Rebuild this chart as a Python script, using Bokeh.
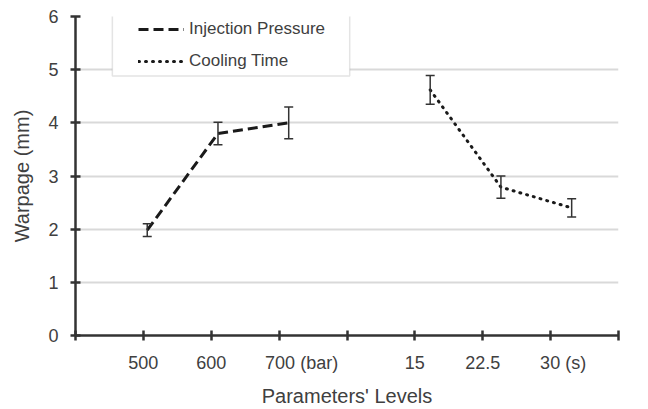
from bokeh.plotting import figure
from bokeh.models import (Range1d, FixedTicker, Whisker, TeeHead, ColumnDataSource,
                          Legend, LegendItem, BoxAnnotation)
from bokeh.embed import file_html
from bokeh.resources import INLINE

# ---- data ----
inj_levels = ["500", "600", "700 (bar)"]
inj_pos = [1, 2, 3]
inj_warp = [1.98, 3.80, 4.00]
inj_err = [0.12, 0.21, 0.30]

cool_levels = ["15", "22.5", "30 (s)"]
cool_pos = [5, 6, 7]
cool_warp = [4.62, 2.79, 2.40]
cool_err = [0.27, 0.21, 0.17]

y_ticks = [0, 1, 2, 3, 4, 5, 6]
x_ticks = [0, 1, 2, 3, 4, 5, 6, 7, 8]

FONT = "Liberation Sans"
TXT = "#404040"
AX = "#333333"

p = figure(width=648, height=409, output_backend="svg", toolbar_location=None,
           x_range=Range1d(0, 8), y_range=Range1d(0, 6),
           min_border_left=75, min_border_right=30, min_border_top=16, min_border_bottom=71)
p.extra_x_ranges = {"data": Range1d(-0.0141, 7.662)}
p.outline_line_color = None
p.background_fill_color = "white"

# axes
NB = "\u00a0"
def pad(lbl):
    # keep the numeric part centred on the tick (unit suffix trails to the right)
    if "(" in lbl:
        return NB * (9 if "bar" in lbl else 5) + lbl
    return lbl

overrides = {t: "" for t in x_ticks}
for pos, lbl in zip(inj_pos + cool_pos, inj_levels + cool_levels):
    overrides[pos] = pad(lbl)

xa = p.xaxis[0]
ya = p.yaxis[0]
xa.ticker = FixedTicker(ticks=x_ticks)
xa.major_label_overrides = overrides
ya.ticker = FixedTicker(ticks=y_ticks)
for ax in (xa, ya):
    ax.axis_line_color = AX
    ax.axis_line_width = 2.5
    ax.major_tick_line_color = AX
    ax.major_tick_line_width = 2.5
    ax.major_tick_in = 5
    ax.major_tick_out = 5
    ax.minor_tick_line_color = None
    ax.major_label_text_font = FONT
    ax.major_label_text_font_size = "18px"
    ax.major_label_text_color = TXT
    ax.axis_label_text_font = FONT
    ax.axis_label_text_font_size = "20px"
    ax.axis_label_text_font_style = "normal"
    ax.axis_label_text_color = TXT
xa.major_label_standoff = 12
ya.major_label_standoff = 12
xa.axis_label = "Parameters' Levels"
ya.axis_label = "Warpage (mm)"
xa.axis_label_standoff = 9
ya.axis_label_standoff = 12

p.xgrid.visible = False
p.ygrid.grid_line_color = "#d9d9d9"
p.ygrid.grid_line_width = 2

# sources
src_inj = ColumnDataSource(dict(x=inj_pos, y=inj_warp,
                                upper=[v + e for v, e in zip(inj_warp, inj_err)],
                                lower=[v - e for v, e in zip(inj_warp, inj_err)]))
src_cool = ColumnDataSource(dict(x=cool_pos, y=cool_warp,
                                 upper=[v + e for v, e in zip(cool_warp, cool_err)],
                                 lower=[v - e for v, e in zip(cool_warp, cool_err)]))

r1 = p.line("x", "y", source=src_inj, x_range_name="data", line_color="#1a1a1a",
            line_width=3, line_dash="10 5")
r2 = p.line("x", "y", source=src_cool, x_range_name="data", line_color="#1a1a1a",
            line_width=3, line_dash="1 6", line_cap="round")

for src in (src_inj, src_cool):
    w = Whisker(source=src, base="x", upper="upper", lower="lower", x_range_name="data",
                line_color="#333333", line_width=1.5,
                upper_head=TeeHead(size=9, line_color="#333333", line_width=1.5),
                lower_head=TeeHead(size=9, line_color="#333333", line_width=1.5))
    w.level = "glyph"
    p.add_layout(w)

# legend box
box = BoxAnnotation(left=0.543, right=4.04, top=6.06, bottom=4.88,
                    fill_color="white", fill_alpha=1.0,
                    line_color="#a6a6a6", line_width=1.5)
p.add_layout(box)

legend = Legend(items=[LegendItem(label="Injection Pressure", renderers=[r1]),
                       LegendItem(label="Cooling Time", renderers=[r2])],
                location=(59, 260), padding=4, spacing=12,
                glyph_width=46, glyph_height=20, label_height=20, label_standoff=5,
                label_text_font=FONT, label_text_font_size="17px", label_text_color=TXT,
                border_line_alpha=0, background_fill_alpha=0)
p.add_layout(legend)

open("out.html", "w").write(file_html(p, INLINE))
